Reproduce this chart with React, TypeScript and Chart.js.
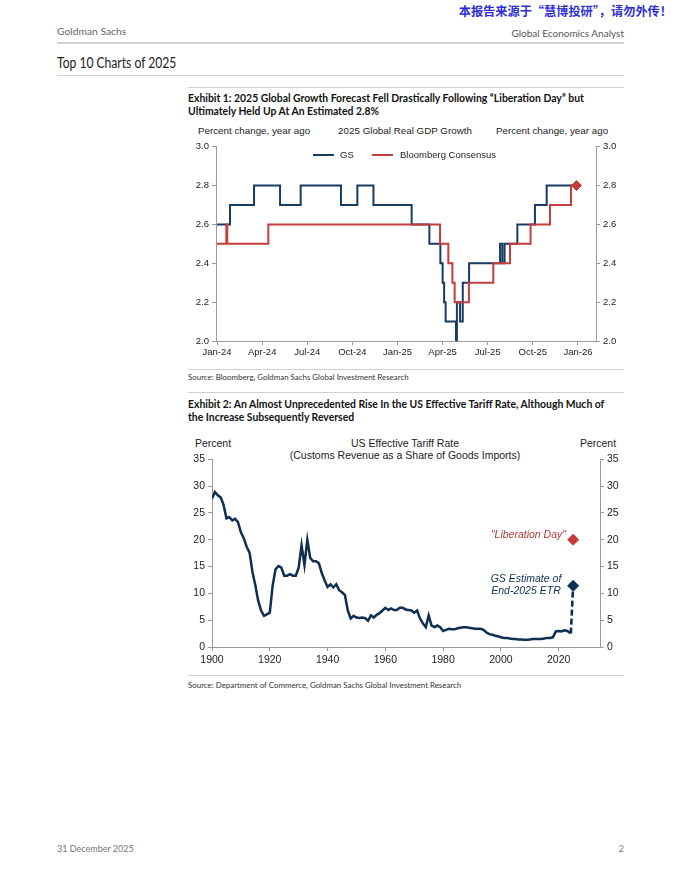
import React, { useEffect, useRef } from 'react';
import { Chart, registerables } from 'chart.js';
Chart.register(...registerables);

// ---------- Exhibit 1 data (x = months since Jan-24) ----------
const gsMonths = [0, 0.86, 2.46, 4.19, 5.56, 8.24, 9.33, 10.4, 12.94, 14.12, 14.85, 15.0, 15.1, 15.2, 15.89, 15.95, 16.16, 16.34, 16.76, 18.82, 18.97, 19.12, 19.97, 21.14, 21.92, 23.9];
const gsGrowth = [2.6, 2.7, 2.8, 2.7, 2.8, 2.7, 2.8, 2.7, 2.6, 2.5, 2.4, 2.3, 2.2, 2.1, 2.0, 2.2, 2.1, 2.3, 2.4, 2.5, 2.4, 2.5, 2.6, 2.7, 2.8, 2.8];
const bbgMonths = [0, 0.62, 0.68, 3.41, 14.83, 15.38, 15.65, 15.8, 16.75, 18.37, 19.48, 20.85, 22.14, 23.54, 23.9];
const bbgGrowth = [2.5, 2.6, 2.5, 2.6, 2.5, 2.4, 2.3, 2.2, 2.3, 2.4, 2.5, 2.6, 2.7, 2.8, 2.8];
const finalMonth = 23.9;
const finalEstimate = 2.8;
const gdpTickMonths = [0, 3, 6, 9, 12, 15, 18, 21, 24];
const gdpTickLabels = ['Jan-24', 'Apr-24', 'Jul-24', 'Oct-24', 'Jan-25', 'Apr-25', 'Jul-25', 'Oct-25', 'Jan-26'];

// ---------- Exhibit 2 data (annual, starting 1900) ----------
const tariffStartYear = 1900;
const tariffRate = [
  27.7, 28.9, 28.3, 27.9, 26.5, 24.0, 24.2, 23.6, 23.9, 23.3, // 1900s
  21.4, 20.3, 18.7, 17.6, 14.0, 11.5, 8.6, 6.8, 5.8, 6.1, // 1910s
  6.4, 11.5, 14.5, 15.1, 14.8, 13.3, 13.3, 13.6, 13.3, 13.3, // 1920s
  14.8, 19.0, 15.3, 20.0, 16.6, 16.0, 16.0, 15.6, 13.8, 12.4, // 1930s
  11.2, 11.7, 11.1, 11.7, 10.6, 10.2, 9.7, 6.8, 5.3, 5.8, // 1940s
  5.5, 5.4, 5.5, 5.4, 4.9, 5.9, 5.5, 6.0, 6.3, 6.8, // 1950s
  7.3, 6.9, 7.2, 6.9, 6.9, 7.3, 7.3, 7.0, 6.9, 6.8, // 1960s
  6.4, 6.8, 5.3, 4.4, 3.7, 5.9, 4.0, 3.7, 4.0, 3.7, // 1970s
  3.0, 3.2, 3.4, 3.3, 3.3, 3.5, 3.6, 3.7, 3.7, 3.6, // 1980s
  3.5, 3.4, 3.4, 3.4, 3.2, 2.7, 2.4, 2.3, 2.1, 2.0, // 1990s
  1.8, 1.7, 1.7, 1.6, 1.5, 1.5, 1.4, 1.4, 1.35, 1.35, // 2000s
  1.4, 1.5, 1.5, 1.5, 1.5, 1.6, 1.7, 1.7, 1.8, 2.9, // 2010s
  3.0, 2.9, 3.1, 3.0, 2.6, // 2020-2024
];
const estimateYears = [2024.2, 2025];
const estimateValues = [2.5, 11.4];
const liberationYear = 2025;
const liberationValue = 20.0;
const tariffTickYears = [1900, 1920, 1940, 1960, 1980, 2000, 2020];

const NAVY = '#183b63';
const NAVY2 = '#0f2f52';
const RED = '#c43c3c';
const AXIS = '#9a9a9a';
const CFONT = '"Liberation Sans", Arial, sans-serif';
const TFONT = 'Lato, "Open Sans", sans-serif';

function GdpChart() {
  const ref = useRef<HTMLCanvasElement>(null);
  useEffect(() => {
    const tickFont = { family: CFONT, size: 9.5 };
    const yAxis = (pos: 'left' | 'right') => ({
      position: pos,
      min: 2,
      max: 3,
      afterFit: (s: any) => { s.width = 28; },
      ticks: { stepSize: 0.2, font: tickFont, color: '#222', padding: 3, callback: (v: any) => Number(v).toFixed(1) },
      grid: { drawOnChartArea: false, drawTicks: true, tickLength: 4, color: AXIS },
      border: { color: AXIS, width: 1 },
    });
    const chart = new Chart(ref.current!, {
      type: 'line',
      data: {
        datasets: [
          { label: 'marker', data: [{ x: finalMonth, y: finalEstimate }], showLine: false, pointStyle: 'rectRot', pointRadius: 5, pointBackgroundColor: RED, pointBorderColor: RED, order: 0 },
          { label: 'Bloomberg Consensus', data: bbgMonths.map((m, i) => ({ x: m, y: bbgGrowth[i] })), borderColor: RED, borderWidth: 2, stepped: 'before', pointRadius: 0, order: 1 },
          { label: 'GS', data: gsMonths.map((m, i) => ({ x: m, y: gsGrowth[i] })), borderColor: NAVY, borderWidth: 2, stepped: 'before', pointRadius: 0, order: 2 },
        ] as any,
      },
      options: {
        animation: false,
        responsive: false,
        plugins: { legend: { display: false }, tooltip: { enabled: false } },
        layout: { padding: { top: 6, left: 0, right: 0, bottom: 0 } },
        scales: {
          x: {
            type: 'linear',
            min: -0.07,
            max: 25.2,
            afterBuildTicks: (s: any) => { s.ticks = gdpTickMonths.map((v) => ({ value: v })); },
            afterFit: (s: any) => { s.height = 20; },
            ticks: { autoSkip: false, maxRotation: 0, font: tickFont, color: '#222', padding: 2, callback: (_v: any, i: number) => gdpTickLabels[i] },
            grid: { drawOnChartArea: false, drawTicks: true, tickLength: 4, color: AXIS },
            border: { color: AXIS, width: 1 },
          },
          y: yAxis('left'),
          y2: yAxis('right'),
        } as any,
      },
    });
    return () => chart.destroy();
  }, []);
  return <canvas ref={ref} width={436} height={223} style={{ position: 'absolute', left: 188, top: 138 }} />;
}

function TariffChart() {
  const ref = useRef<HTMLCanvasElement>(null);
  useEffect(() => {
    const tickFont = { family: CFONT, size: 10.5 };
    const yAxis = (pos: 'left' | 'right') => ({
      position: pos,
      min: 0,
      max: 35,
      afterFit: (s: any) => { s.width = 24; },
      ticks: { stepSize: 5, font: tickFont, color: '#222', padding: 3 },
      grid: { drawOnChartArea: false, drawTicks: true, tickLength: 4, color: AXIS },
      border: { color: AXIS, width: 1 },
    });
    const chart = new Chart(ref.current!, {
      type: 'line',
      data: {
        datasets: [
          { label: 'lib', data: [{ x: liberationYear, y: liberationValue }], showLine: false, pointStyle: 'rectRot', pointRadius: 5.5, pointBackgroundColor: RED, pointBorderColor: RED, order: 0 },
          { label: 'est', data: [{ x: estimateYears[1], y: estimateValues[1] }], showLine: false, pointStyle: 'rectRot', pointRadius: 5.5, pointBackgroundColor: NAVY2, pointBorderColor: NAVY2, order: 0 },
          { label: 'dash', data: estimateYears.map((y, i) => ({ x: y, y: estimateValues[i] })), borderColor: NAVY2, borderWidth: 2.6, borderDash: [6, 3], pointRadius: 0, order: 1 },
          { label: 'ETR', data: tariffRate.map((v, i) => ({ x: tariffStartYear + i, y: v })), borderColor: NAVY2, borderWidth: 2.5, pointRadius: 0, tension: 0, order: 2 },
        ] as any,
      },
      options: {
        animation: false,
        responsive: false,
        plugins: { legend: { display: false }, tooltip: { enabled: false } },
        layout: { padding: { top: 7, left: 0, right: 0, bottom: 0 } },
        scales: {
          x: {
            type: 'linear',
            min: 1900,
            max: 2034.3,
            afterBuildTicks: (s: any) => { s.ticks = tariffTickYears.map((v) => ({ value: v })); },
            afterFit: (s: any) => { s.height = 25; },
            ticks: { autoSkip: false, maxRotation: 0, font: tickFont, color: '#222', padding: 3, callback: (v: any) => String(v) },
            grid: { drawOnChartArea: false, drawTicks: true, tickLength: 4, color: AXIS },
            border: { color: AXIS, width: 1 },
          },
          y: yAxis('left'),
          y2: yAxis('right'),
        } as any,
      },
    });
    return () => chart.destroy();
  }, []);
  return <canvas ref={ref} width={436} height={222} style={{ position: 'absolute', left: 188, top: 450 }} />;
}

type TProps = { x: number; y: number; size: number; align?: 'left' | 'center' | 'right'; font?: string; color?: string; bold?: boolean; italic?: boolean; children: React.ReactNode; extra?: React.CSSProperties };
function T({ x, y, size, align = 'left', font = CFONT, color = '#222', bold, italic, children, extra }: TProps) {
  const lh = Math.round(size * 1.25);
  const style: React.CSSProperties = {
    position: 'absolute',
    top: y - lh / 2,
    fontSize: size,
    lineHeight: `${lh}px`,
    fontFamily: font,
    color,
    fontWeight: bold ? 700 : 400,
    fontStyle: italic ? 'italic' : 'normal',
    whiteSpace: 'nowrap',
    ...extra,
  };
  if (align === 'left') style.left = x;
  else if (align === 'right') style.right = 680 - x;
  else { style.left = x; style.transform = 'translateX(-50%)'; }
  return <div style={style}>{children}</div>;
}

function HLine({ y, x1, x2, color = '#cfcfcf', w = 1 }: { y: number; x1: number; x2: number; color?: string; w?: number }) {
  return <div style={{ position: 'absolute', left: x1, top: y, width: x2 - x1, height: w, background: color }} />;
}

export default function App() {
  return (
    <div style={{ position: 'absolute', left: 0, top: 0, width: 680, height: 880, background: '#fff', overflow: 'hidden' }}>
      <T x={672} y={11} size={12.2} align="right" font='"Noto Sans CJK SC", sans-serif' color="#2f2fd6" bold>本报告来源于“慧博投研”，请勿外传！</T>
      <T x={57} y={31} size={10.3} font={TFONT} color="#666">Goldman Sachs</T>
      <T x={624} y={33} size={10} align="right" font={TFONT} color="#555">Global Economics Analyst</T>
      <HLine y={42} x1={57} x2={624} color="#d4d4d4" w={2} />
      <T x={57} y={62} size={15.5} font={TFONT} color="#222" extra={{ transform: 'scaleX(0.78)', transformOrigin: 'left center' }}>Top 10 Charts of 2025</T>
      <HLine y={75} x1={57} x2={624} color="#cfcfcf" w={1} />

      <HLine y={87} x1={188} x2={624} />
      <T x={188} y={98} size={10.4} font={TFONT} color="#111" bold>Exhibit 1: 2025 Global Growth Forecast Fell Drastically Following “Liberation Day” but</T>
      <T x={188} y={111} size={10.4} font={TFONT} color="#111" bold>Ultimately Held Up At An Estimated 2.8%</T>
      <T x={254} y={131} size={9.8} align="center">Percent change, year ago</T>
      <T x={405} y={131} size={9.8} align="center">2025 Global Real GDP Growth</T>
      <T x={552} y={131} size={9.8} align="center">Percent change, year ago</T>
      <GdpChart />
      <div style={{ position: 'absolute', left: 313, top: 154, width: 21, height: 2, background: NAVY }} />
      <T x={340} y={155} size={9.5}>GS</T>
      <div style={{ position: 'absolute', left: 372, top: 154, width: 21, height: 2, background: RED }} />
      <T x={400} y={155} size={9.5}>Bloomberg Consensus</T>
      <HLine y={369} x1={188} x2={624} />
      <T x={188} y={377} size={7.9} font={TFONT} color="#333">Source: Bloomberg, Goldman Sachs Global Investment Research</T>
      <HLine y={392} x1={188} x2={624} />

      <T x={188} y={404} size={10.4} font={TFONT} color="#111" bold>Exhibit 2: An Almost Unprecedented Rise In the US Effective Tariff Rate, Although Much of</T>
      <T x={188} y={417} size={10.4} font={TFONT} color="#111" bold>the Increase Subsequently Reversed</T>
      <T x={213} y={443} size={10.5} align="center">Percent</T>
      <T x={405} y={443} size={10.5} align="center">US Effective Tariff Rate</T>
      <T x={405} y={455} size={10.5} align="center">(Customs Revenue as a Share of Goods Imports)</T>
      <T x={598} y={443} size={10.5} align="center">Percent</T>
      <TariffChart />
      <T x={566} y={534} size={10.5} align="right" italic color="#b23a3a">"Liberation Day"</T>
      <T x={526} y={578} size={10.5} align="center" italic color={NAVY2}>GS Estimate of</T>
      <T x={526} y={590} size={10.5} align="center" italic color={NAVY2}>End-2025 ETR</T>
      <HLine y={675} x1={188} x2={624} />
      <T x={188} y={685} size={7.9} font={TFONT} color="#333">Source: Department of Commerce, Goldman Sachs Global Investment Research</T>

      <T x={57} y={848} size={9} font={TFONT} color="#777">31 December 2025</T>
      <T x={624} y={848} size={9} align="right" font={TFONT} color="#777">2</T>
    </div>
  );
}
